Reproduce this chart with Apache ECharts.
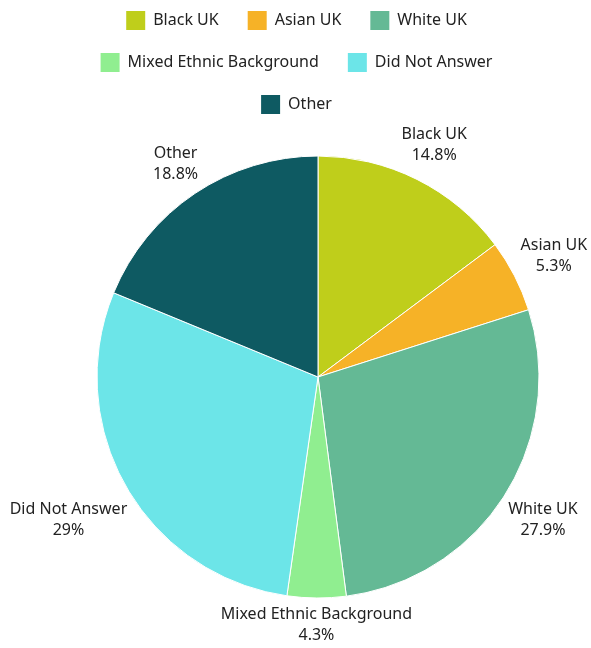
<!DOCTYPE html>
<html>
<head>
	<meta charset="utf-8">
	<title>Ethnicity pie</title>
	<script src="https://cdn.jsdelivr.net/npm/echarts@6/dist/echarts.min.js"></script>
	<style>
		html, body { margin: 0; padding: 0; background: #fff; }
		#chart { width: 591px; height: 648px; }
	</style>
</head>
<body>
<div id="chart"></div>
<script>
	// data
	var categories = ['Black UK', 'Asian UK', 'White UK', 'Mixed Ethnic Background', 'Did Not Answer', 'Other'];
	var values = [14.8, 5.3, 27.9, 4.3, 29, 18.8];
	var colors = ['#bfce1b', '#f6b227', '#64b995', '#90ee90', '#6ce5e8', '#0e5a62'];

	// legend rows (centered one by one)
	var legendRows = [
		['Black UK', 'Asian UK', 'White UK'],
		['Mixed Ethnic Background', 'Did Not Answer'],
		['Other']
	];

	var cx = 318, cy = 377, radius = 221;
	var font = '"Noto Sans", sans-serif';

	// mid angle of each slice, from 12 o'clock clockwise
	var total = values.reduce(function (a, b) { return a + b; }, 0);
	var midAngles = [];
	var acc = 0;
	values.forEach(function (v) {
		midAngles.push((acc + v / 2) / total * Math.PI * 2);
		acc += v;
	});

	var chart = echarts.init(document.getElementById('chart'));

	var legends = legendRows.map(function (row, i) {
		return {
			data: row,
			left: 'center',
			top: 9 + i * 42,
			padding: 0,
			icon: 'rect',
			itemWidth: 21,
			itemHeight: 21,
			itemGap: 27,
			textStyle: { color: '#222', fontSize: 16, fontFamily: font, padding: [0, 0, 0, 2] }
		};
	});

	var option = {
		color: colors,
		legend: legends,
		series: [{
			type: 'pie',
			center: [cx, cy],
			radius: radius,
			startAngle: 90,
			avoidLabelOverlap: false,
			itemStyle: { borderColor: '#fff', borderWidth: 1 },
			label: {
				show: true,
				position: 'outside',
				formatter: '{b}\n{c}%',
				color: '#222',
				fontSize: 16,
				lineHeight: 21,
				fontFamily: font,
				align: 'center'
			},
			labelLine: { show: false, length: 0, length2: 0 },
			// put each label just outside the arc, like datalabels "end" anchoring
			labelLayout: function (p) {
				var a = midAngles[p.dataIndex];
				var ux = Math.sin(a), uy = -Math.cos(a);
				var w = p.labelRect.width, h = p.labelRect.height;
				var d = radius + 5 + w / 2 * Math.abs(ux) + h / 2 * Math.abs(uy);
				return { x: cx + ux * d, y: cy + uy * d, align: 'center', verticalAlign: 'middle' };
			},
			emphasis: { disabled: true },
			data: categories.map(function (name, i) {
				return { name: name, value: values[i] };
			})
		}]
	};

	chart.setOption(option);
</script>
</body>
</html>
